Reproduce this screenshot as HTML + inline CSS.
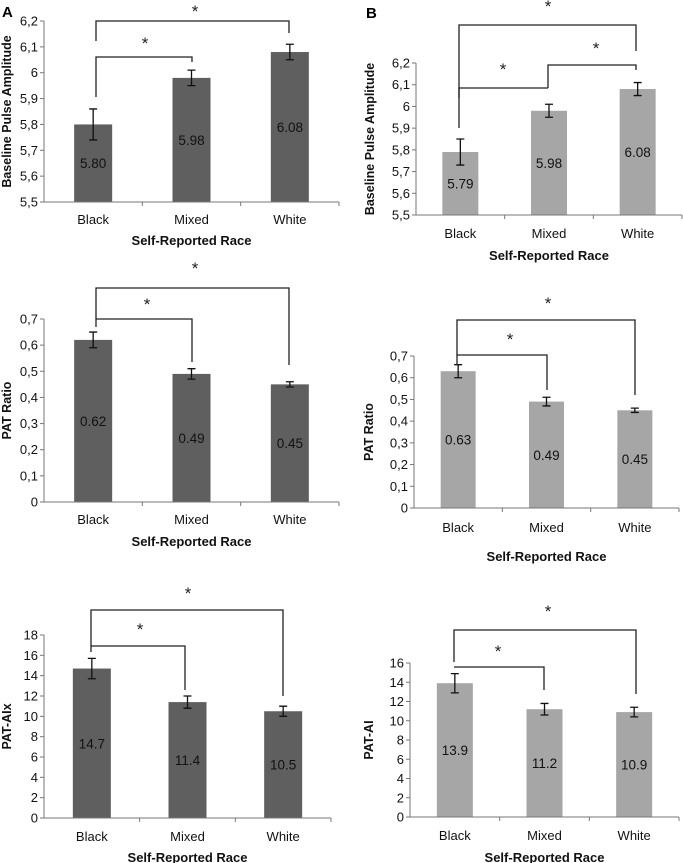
<!DOCTYPE html>
<html><head><meta charset="utf-8"><style>
html,body{margin:0;padding:0;background:#fff;}
svg{display:block;font-family:"Liberation Sans",sans-serif;}
</style></head><body>
<svg id="fig" width="683" height="863" viewBox="0 0 683 863" xmlns="http://www.w3.org/2000/svg">
<text x="2" y="17" font-size="15" font-weight="bold">A</text>
<text x="366" y="18" font-size="15" font-weight="bold">B</text>
</svg>
<script>
const categories = ["Black", "Mixed", "White"];
const a1Values = [5.80, 5.98, 6.08];
const a1Errors = [0.06, 0.03, 0.03];
const a1Labels = ["5.80", "5.98", "6.08"];
const a1Ticks = ["5,5","5,6","5,7","5,8","5,9","6","6,1","6,2"];
const a2Values = [0.62, 0.49, 0.45];
const a2Errors = [0.03, 0.02, 0.01];
const a2Labels = ["0.62", "0.49", "0.45"];
const a2Ticks = ["0","0,1","0,2","0,3","0,4","0,5","0,6","0,7"];
const a3Values = [14.7, 11.4, 10.5];
const a3Errors = [1.0, 0.6, 0.5];
const a3Labels = ["14.7", "11.4", "10.5"];
const a3Ticks = ["0","2","4","6","8","10","12","14","16","18"];
const b1Values = [5.79, 5.98, 6.08];
const b1Errors = [0.06, 0.03, 0.03];
const b1Labels = ["5.79", "5.98", "6.08"];
const b1Ticks = ["5,5","5,6","5,7","5,8","5,9","6","6,1","6,2"];
const b2Values = [0.63, 0.49, 0.45];
const b2Errors = [0.03, 0.02, 0.01];
const b2Labels = ["0.63", "0.49", "0.45"];
const b2Ticks = ["0","0,1","0,2","0,3","0,4","0,5","0,6","0,7"];
const b3Values = [13.9, 11.2, 10.9];
const b3Errors = [1.0, 0.6, 0.5];
const b3Labels = ["13.9", "11.2", "10.9"];
const b3Ticks = ["0","2","4","6","8","10","12","14","16"];

const NS = "http://www.w3.org/2000/svg";
const svg = document.getElementById("fig");
function mk(tag, attrs, parent, text) {
  const e = document.createElementNS(NS, tag);
  for (const k in attrs) e.setAttribute(k, attrs[k]);
  if (text !== undefined) e.textContent = text;
  (parent || svg).appendChild(e);
  return e;
}

function panel(id, cfg, values, errors, labels, ticks) {
  const g = mk("g", {});
  
  
  const ymin = cfg.ymin, ymax = cfg.ymax;
  const yS = v => cfg.yBot - (v - ymin) / (ymax - ymin) * (cfg.yBot - cfg.yTop);
  const step = (cfg.xEnd - cfg.ax) / categories.length;
  const xS = i => cfg.ax + step * (i + 0.5);
  ticks.forEach((t, i) => {
    const v = ymin + i * (ymax - ymin) / (ticks.length - 1);
    const y = yS(v);
    const tl = mk("line", {x1: cfg.ax - 4, x2: cfg.ax, y1: y, y2: y, stroke: "#777", "stroke-width": 1}, g);
    
    
    const tx = mk("text", {x: cfg.ax - 6, y: y + 4.5, "font-size": 13, "text-anchor": "end", fill: "#111"}, g, t);
    
    
  });
  values.forEach((v, i) => {
    const cx = xS(i), top = yS(v);
    const r = mk("rect", {x: cx - cfg.bw / 2, y: top, width: cfg.bw, height: cfg.yBot - top, fill: cfg.color}, g);
    
    
    const e = errors[i];
    const y1 = yS(v + e), y2 = yS(v - e);
    const eb = mk("path", {d: `M${cx},${y1}V${y2}M${cx-4},${y1}H${cx+4}M${cx-4},${y2}H${cx+4}`, stroke: "#111", "stroke-width": 1.3, fill: "none"}, g);
    
    
    const lbl = mk("text", {x: cx, y: (top + cfg.yBot) / 2 + 5, "font-size": 13.5, "text-anchor": "middle", fill: "#111"}, g, labels[i]);
    
    
    const cl = mk("text", {x: cx, y: cfg.catY + 5, "font-size": 13, "text-anchor": "middle", fill: "#111"}, g, categories[i]);
    
    
  });
  const ax = mk("path", {d: `M${cfg.ax},${cfg.yTop}V${cfg.yBot}H${cfg.xEnd}`, stroke: "#777", "stroke-width": 1, fill: "none"}, g);
  
  
  for (let i = 1; i <= categories.length; i++) {
    const x = cfg.ax + step * i;
    const xt = mk("line", {x1: x, x2: x, y1: cfg.yBot, y2: cfg.yBot + 4, stroke: "#777", "stroke-width": 1}, g);
    
    
  }
  const xt = mk("text", {x: (cfg.ax + cfg.xEnd) / 2, y: cfg.titleY + 5, "font-size": 13, "font-weight": "bold", "text-anchor": "middle", fill: "#111"}, g, "Self-Reported Race");
  
  
  const ym = (cfg.yTop + cfg.yBot) / 2;
  const yt = mk("text", {x: cfg.ytX, y: ym, "font-size": 12.5, "font-weight": "bold", "text-anchor": "middle", fill: "#111", transform: `rotate(-90 ${cfg.ytX} ${ym})`}, g, cfg.ytitle);
  
  
  cfg.brackets.forEach(b => {
    const p = mk("path", {d: `M${b[0]},${b[3]}V${b[2]}H${b[1]}V${b[4]}`, stroke: "#222", "stroke-width": 1.3, fill: "none"}, g);
    
    
    const s = mk("text", {x: b[5], y: b[6] + 7, "font-size": 17, "text-anchor": "middle", fill: "#222"}, g, "*");
    
    
  });
}

panel("a1", {ymin:5.5, ymax:6.2, yTop:21, yBot:202, ax:44, xEnd:339, bw:38, color:"#5f5f5f", catY:219, titleY:240, ytX:11, ytitle:"Baseline Pulse Amplitude",
  brackets:[[96,289,21,41,33,195,10],[96,192,57,97,62,145,42]]}, a1Values, a1Errors, a1Labels, a1Ticks);
panel("a2", {ymin:0, ymax:0.7, yTop:319, yBot:502, ax:44, xEnd:339, bw:38, color:"#5f5f5f", catY:519, titleY:541, ytX:11, ytitle:"PAT Ratio",
  brackets:[[96,289,288,319,365,195,267],[96,192,319,327,362,147,303]]}, a2Values, a2Errors, a2Labels, a2Ticks);
panel("a3", {ymin:0, ymax:18, yTop:635, yBot:818, ax:44, xEnd:331, bw:38, color:"#5f5f5f", catY:836, titleY:857, ytX:11, ytitle:"PAT-AIx",
  brackets:[[91,283,610,646,696,188,592],[91,185,646,652,690,140,628]]}, a3Values, a3Errors, a3Labels, a3Ticks);
panel("b1", {ymin:5.5, ymax:6.2, yTop:63, yBot:215, ax:416, xEnd:682, bw:36, color:"#a6a6a6", catY:233, titleY:255, ytX:374, ytitle:"Baseline Pulse Amplitude",
  brackets:[[459,636,25,128,51,548,5],[459,548,88,98,88,503,68],[548,636,65,88,70,596,47]]}, b1Values, b1Errors, b1Labels, b1Ticks);
panel("b2", {ymin:0, ymax:0.7, yTop:356, yBot:508, ax:414, xEnd:679, bw:35, color:"#a6a6a6", catY:527, titleY:556, ytX:373, ytitle:"PAT Ratio",
  brackets:[[457,635,320,355,395,548,302],[457,547,355,365,390,510,338]]}, b2Values, b2Errors, b2Labels, b2Ticks);
panel("b3", {ymin:0, ymax:16, yTop:663, yBot:817, ax:410, xEnd:679, bw:36, color:"#a6a6a6", catY:835, titleY:857, ytX:373, ytitle:"PAT-AI",
  brackets:[[454,636,630,662,694,548,610],[454,544,667,667,690,498,650]]}, b3Values, b3Errors, b3Labels, b3Ticks);
</script>
</body></html>
